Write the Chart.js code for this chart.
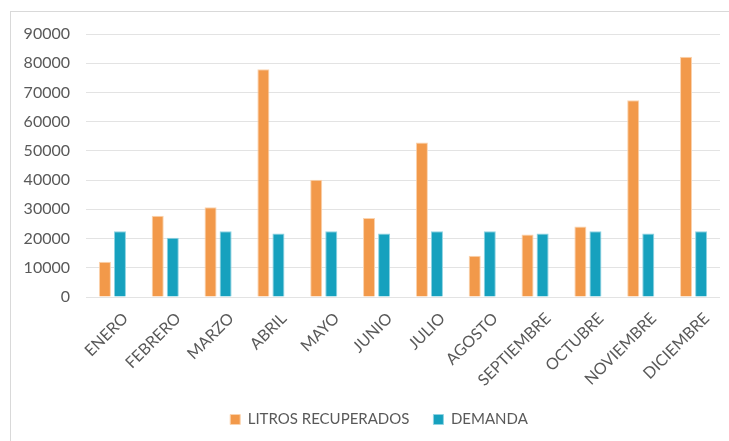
<!DOCTYPE html>
<html>
<head>
<meta charset="utf-8">
<script src="https://cdn.jsdelivr.net/npm/chart.js@4"></script>
<style>
  body { margin: 0; background: #fff; }
  #wrap { position: relative; width: 729px; height: 441px; }
  #frame { position: absolute; left: 10px; top: 11px; width: 730px; height: 440px; border: 1px solid #d9d9d9; box-sizing: border-box; }
  canvas { position: absolute; left: 0; top: 0; }
</style>
</head>
<body>
<div id="wrap">
  <div id="frame"></div>
  <canvas id="myBarChart" width="729" height="441"></canvas>
</div>
<script>
// Data
var months = ["ENERO", "FEBRERO", "MARZO", "ABRIL", "MAYO", "JUNIO", "JULIO", "AGOSTO", "SEPTIEMBRE", "OCTUBRE", "NOVIEMBRE", "DICIEMBRE"];
var litrosRecuperados = [12100, 27800, 30700, 77900, 40100, 27000, 52900, 14100, 21400, 24100, 67300, 82200];
var demanda = [22500, 20300, 22500, 21700, 22500, 21700, 22500, 22500, 21700, 22500, 21700, 22500];
var yTicks = { min: 0, max: 90000, step: 10000 };

var textColor = '#595959';
var fontFamily = 'Lato, "Open Sans", sans-serif';

// Nudge the legend so it sits centred under the plot area
var legendShift = {
    id: 'legendShift',
    afterLayout: function (chart) {
        if (chart.legend) {
            chart.legend.left += 19;
            chart.legend.right += 19;
        }
    }
};

function createBarChart() {
    var ctx = document.getElementById('myBarChart').getContext('2d');
    window.myBarChart = new Chart(ctx, {
        type: 'bar',
        data: {
            labels: months,
            datasets: [{
                label: 'LITROS RECUPERADOS',
                data: litrosRecuperados,
                backgroundColor: '#F2994A',
                borderColor: '#FBD3AE',
                borderWidth: 1,
                categoryPercentage: 0.57,
                barPercentage: 0.8
            }, {
                label: 'DEMANDA',
                data: demanda,
                backgroundColor: '#16A1BE',
                borderColor: '#8FD3E2',
                borderWidth: 1,
                categoryPercentage: 0.57,
                barPercentage: 0.8
            }]
        },
        options: {
            responsive: false,
            animation: false,
            layout: {
                padding: { top: 34, right: 9, left: 0, bottom: 4 }
            },
            scales: {
                y: {
                    min: yTicks.min,
                    max: yTicks.max,
                    ticks: {
                        stepSize: yTicks.step,
                        color: textColor,
                        padding: 16,
                        font: { family: fontFamily, size: 16 },
                        callback: function (v) { return String(v); }
                    },
                    grid: {
                        color: '#e3e3e3',
                        drawTicks: false
                    },
                    border: { display: false },
                    afterFit: function (scale) { scale.width = 86; }
                },
                x: {
                    ticks: {
                        color: textColor,
                        minRotation: 45,
                        maxRotation: 45,
                        padding: 4,
                        labelOffset: 13,
                        font: { family: fontFamily, size: 16 }
                    },
                    grid: { display: false },
                    border: { display: false },
                    afterFit: function (scale) { scale.height = 91; }
                }
            },
            plugins: {
                tooltip: { enabled: false },
                legend: {
                    position: 'bottom',
                    labels: {
                        color: textColor,
                        boxWidth: 10,
                        boxHeight: 10,
                        padding: 24,
                        font: { family: fontFamily, size: 15 }
                    }
                }
            }
        },
        plugins: [legendShift]
    });
}

createBarChart();
</script>
</body>
</html>
